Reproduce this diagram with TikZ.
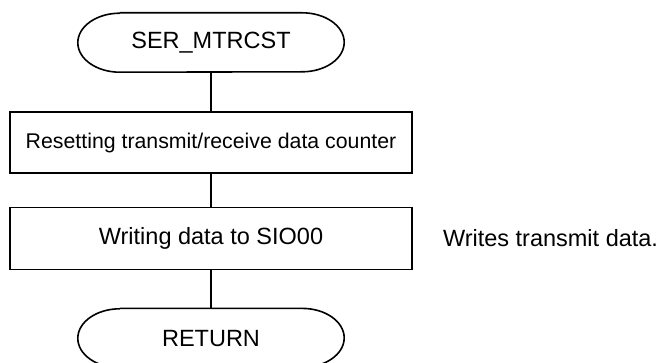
\documentclass[tikz,border=0pt]{standalone}
\usepackage{fontspec}
\setmainfont{Liberation Sans}
\usetikzlibrary{positioning}
\tikzset{
    flow/.style={draw=black, line width=1.6pt},
    terminal/.style={
        rectangle, minimum width=266pt, minimum height=59pt,
        font=\fontsize{23.5}{28}\selectfont,
        append after command={
            \pgfextra{
                \draw[flow] ([xshift=42pt]\tikzlastnode.north west) -- ([xshift=-42pt]\tikzlastnode.north east)
                    arc[start angle=90, end angle=-90, x radius=42pt, y radius=29.5pt]
                    -- ([xshift=42pt]\tikzlastnode.south west)
                    arc[start angle=270, end angle=90, x radius=42pt, y radius=29.5pt];
            }
        }
    },
    process/.style={
        rectangle, draw=black, line width=1.6pt,
        minimum width=402pt, minimum height=61pt,
        fill=white, font=\fontsize{23.5}{28}\selectfont
    },
    remark/.style={font=\fontsize{23.5}{28}\selectfont, inner sep=0pt, anchor=west}
}
\begin{document}
\begin{tikzpicture}
\useasboundingbox (0pt,0pt) rectangle (662pt,-363pt);

% Flow chart column
\node[terminal] (start) at (211pt,-42.5pt) {SER\_MTRCST};
\node[process, below=39pt of start, font=\fontsize{21.3}{26}\selectfont] (reset) {Resetting transmit/receive data counter};
\node[process, below=33pt of reset, minimum height=62pt] (write) {Writing data to SIO00};
\node[terminal, below=38pt of write] (ret) {RETURN};

% Comment
\node[remark, right=30pt of write] (note) {Writes transmit data.};

% Connections
\draw[flow] (start) -- (reset);
\draw[flow] (reset) -- (write);
\draw[flow] (write) -- (ret);

\end{tikzpicture}
\end{document}
